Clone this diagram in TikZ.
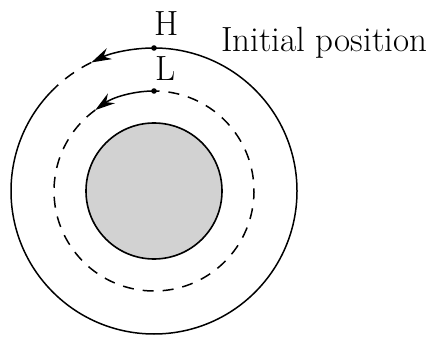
\documentclass[tikz,border=0pt]{standalone}
\usetikzlibrary{arrows.meta}
\tikzset{
  orbit/.style={line width=1.5pt},
  dashorbit/.style={line width=1.5pt, dash pattern=on 11pt off 9pt},
  bigtext/.style={font=\fontsize{35}{40}\selectfont, inner sep=0pt},
}
\begin{document}
\begin{tikzpicture}[x=1pt, y=1pt, >={Stealth[length=20pt,width=12pt]}]
\useasboundingbox (0,0) rectangle (435,337);
\coordinate (O) at (154,146);
% planet
\draw[line width=1.6pt, fill=gray!35] (O) circle[radius=68];
% high orbit
\coordinate (H) at ([shift={(90:143)}]O);
\draw[orbit] ([shift={(135:143)}]O) arc[start angle=135, end angle=450, radius=143];
\draw[dashorbit] ([shift={(116:143)}]O) arc[start angle=116, end angle=135, radius=143];
\draw[orbit, ->] (H) arc[start angle=90, end angle=116, radius=143];
% low orbit
\coordinate (L) at ([shift={(90:100)}]O);
\draw[dashorbit] ([shift={(126:100)}]O) arc[start angle=126, end angle=450, radius=100];
\draw[orbit, ->] (L) arc[start angle=90, end angle=126, radius=100];
\fill (H) circle[radius=2.8];
\fill (L) circle[radius=2.8];
\node[bigtext] (hlab) at (167,313) {H};
\node[bigtext] (llab) at (166,268) {L};
\node[bigtext, anchor=base west] (init) at (221,285) {Initial position};
\end{tikzpicture}
\end{document}
